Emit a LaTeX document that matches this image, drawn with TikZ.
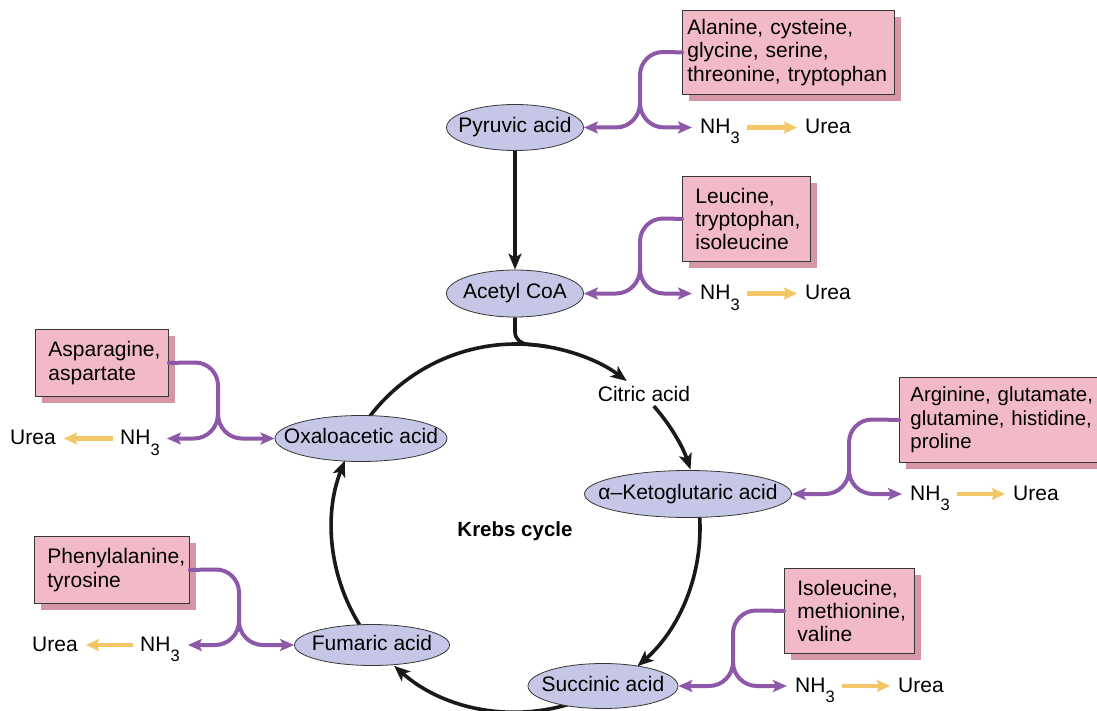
\documentclass[tikz,border=0pt]{standalone}
\usepackage{fontspec}
\setmainfont{Liberation Sans}
\usetikzlibrary{arrows.meta,shadows,shapes.geometric}
\definecolor{ellfill}{RGB}{198,199,230}
\definecolor{pinkfill}{RGB}{242,186,199}
\definecolor{pinksh}{RGB}{214,150,165}
\definecolor{cPurp}{RGB}{142,88,168}
\definecolor{cYel}{RGB}{243,199,104}
\definecolor{edgec}{RGB}{55,55,55}
\newcommand\nhthree{NH\raisebox{-0.5em}{\fontsize{16.5}{16.5}\selectfont 3}}
\begin{document}
\begin{tikzpicture}[x=1pt,y=1pt,
  font=\fontsize{21}{23.4}\selectfont,
  ell/.style={ellipse, draw=edgec, line width=0.8pt, fill=ellfill, inner sep=0pt, text height=15pt, text depth=4.5pt},
  pbox/.style={rectangle, draw=edgec, line width=0.8pt, fill=pinkfill, anchor=north west, align=left, inner ysep=0pt,
    drop shadow={shadow xshift=7pt, shadow yshift=-7pt, fill=pinksh, opacity=1}},
  lbl/.style={inner sep=0pt, anchor=base west},
  pl/.style={draw=cPurp, line width=4pt, line cap=round},
  ptip/.style={-{Stealth[length=14pt,width=12pt,inset=3pt]}},
  blk/.style={draw=black!90, line width=3.6pt},
  btip/.style={-{Stealth[length=16pt,width=13pt,inset=4pt]}},
  yl/.style={draw=cYel, line width=4.4pt, -{Stealth[length=13pt,width=12pt,inset=2pt]}, shorten <=7pt, shorten >=8pt}
]
\useasboundingbox (0,0) rectangle (1097,-711);
\clip (0,0) rectangle (1097,-711);

% Krebs cycle arcs (drawn first, ellipses cover their starts)
\coordinate (kc) at (516,-528);
\draw[blk,btip] ([shift={(143.5:184)}]kc) arc[start angle=143.5, end angle=53, radius=184];
\draw[blk,btip] ([shift={(41.5:184)}]kc) arc[start angle=41.5, end angle=18.5, radius=184];
\draw[blk,btip] ([shift={(4:184)}]kc) arc[start angle=4, end angle=-48.7, radius=184];
\draw[blk,btip] ([shift={(-70:184)}]kc) arc[start angle=-70, end angle=-131.5, radius=184];
\draw[blk,btip] ([shift={(213:184)}]kc) arc[start angle=213, end angle=158.5, radius=184];

% ellipses
\node[ell, minimum width=137, minimum height=46] (py) at (515,-127.5) {\makebox[0pt]{Pyruvic acid}};
\node[ell, minimum width=137, minimum height=47] (ac) at (515,-293.5) {\makebox[0pt]{Acetyl CoA}};
\node[ell, minimum width=172, minimum height=46] (ox) at (361,-438.5) {\makebox[0pt]{Oxaloacetic acid}};
\node[ell, minimum width=207, minimum height=47] (kg) at (688,-494) {\makebox[0pt]{α–Ketoglutaric acid}};
\node[ell, minimum width=155, minimum height=41] (fu) at (372,-645) {\makebox[0pt]{Fumaric acid}};
\node[ell, minimum width=150, minimum height=45] (su) at (603,-686) {\makebox[0pt]{Succinic acid}};

\node (ca) at (644,-394) {Citric acid};
\node[font=\bfseries\fontsize{20.5}{24}\selectfont] (kl) at (515,-531) {Krebs cycle};

% pink boxes
\node[pbox, minimum width=212, minimum height=84, inner xsep=5pt, text width=202pt] (b1) at (682,-10)
  {Alanine, cysteine,\\glycine, serine,\\threonine, tryptophan};
\node[pbox, minimum width=128, minimum height=85, inner xsep=13pt, text width=102pt] (b2) at (682,-176)
  {Leucine,\\tryptophan,\\isoleucine};
\node[pbox, minimum width=133, minimum height=67, inner xsep=13pt, text width=107pt] (b3) at (35,-329)
  {Asparagine,\\aspartate};
\node[pbox, minimum width=220, minimum height=85, inner xsep=11pt, text width=198pt, font=\fontsize{20.4}{23.4}\selectfont] (b4) at (899,-377)
  {Arginine, glutamate,\\glutamine, histidine,\\proline};
\node[pbox, minimum width=155, minimum height=67, inner xsep=13pt, text width=129pt] (b5) at (34,-536)
  {Phenylalanine,\\tyrosine};
\node[pbox, minimum width=130, minimum height=85, inner xsep=13pt, text width=104pt] (b6) at (784,-568)
  {Isoleucine,\\methionine,\\valine};

% NH3 and Urea labels
\node[lbl] (n1) at (700,-133.5) {\nhthree};
\node[lbl] (u1) at (805,-133.5) {Urea};
\node[lbl] (n2) at (700,-299.5) {\nhthree};
\node[lbl] (u2) at (805,-299.5) {Urea};
\node[lbl] (n3) at (120,-444.5) {\nhthree};
\node[lbl] (u3) at (10,-444.5) {Urea};
\node[lbl] (n4) at (910,-500) {\nhthree};
\node[lbl] (u4) at (1013,-500) {Urea};
\node[lbl] (n5) at (140,-651) {\nhthree};
\node[lbl] (u5) at (32,-651) {Urea};
\node[lbl] (n6) at (795,-692) {\nhthree};
\node[lbl] (u6) at (898,-692) {Urea};

% black connectors
\draw[blk,btip] (py.south) -- (ac.north);
\draw[blk] (ac.south) -- (515,-332) to[out=-90,in=180] ([shift={(86:184)}]kc) arc[start angle=86, end angle=80, radius=184];

% yellow arrows
\draw[yl] (n1.east |- py) -- (u1.west |- py);
\draw[yl] (n2.east |- ac) -- (u2.west |- ac);
\draw[yl] (n3.west |- ox) -- (u3.east |- ox);
\draw[yl] (n4.east |- kg) -- (u4.west |- kg);
\draw[yl] (n5.west |- fu) -- (u5.east |- fu);
\draw[yl] (n6.east |- su) -- (u6.west |- su);

% purple forks
\draw[pl] (b1.west) -- (663,-52) to[out=180,in=90] (640,-75) -- (640,-103);
\draw[pl,ptip] (640,-103) to[out=-90,in=0] (616,-127.5) -- (py.east);
\draw[pl,ptip,shorten >=8pt] (640,-103) to[out=-90,in=180] (664,-127.5) -- (n1.west |- py);

\draw[pl] (b2.west) -- (663,-218.5) to[out=180,in=90] (640,-241.5) -- (640,-269);
\draw[pl,ptip] (640,-269) to[out=-90,in=0] (616,-293.5) -- (ac.east);
\draw[pl,ptip,shorten >=8pt] (640,-269) to[out=-90,in=180] (664,-293.5) -- (n2.west |- ac);

\draw[pl] (b3.east) -- (195,-362.5) to[out=0,in=90] (218,-385.5) -- (218,-414);
\draw[pl,ptip,shorten >=7pt] (218,-414) to[out=-90,in=0] (194,-438.5) -- (n3.east |- ox);
\draw[pl,ptip] (218,-414) to[out=-90,in=180] (242,-438.5) -- (ox.west);

\draw[pl] (b4.west) -- (872,-419.5) to[out=180,in=90] (849,-442.5) -- (849,-470);
\draw[pl,ptip] (849,-470) to[out=-90,in=0] (825,-494) -- (kg.east);
\draw[pl,ptip,shorten >=8pt] (849,-470) to[out=-90,in=180] (873,-494) -- (n4.west |- kg);

\draw[pl] (b5.east) -- (216,-569.5) to[out=0,in=90] (239,-592.5) -- (239,-621);
\draw[pl,ptip,shorten >=8pt] (239,-621) to[out=-90,in=0] (215,-645) -- (n5.east |- fu);
\draw[pl,ptip] (239,-621) to[out=-90,in=180] (263,-645) -- (fu.west);

\draw[pl] (b6.west) -- (756,-610.5) to[out=180,in=90] (733,-633.5) -- (733,-662);
\draw[pl,ptip] (733,-662) to[out=-90,in=0] (709,-686) -- (su.east);
\draw[pl,ptip,shorten >=8pt] (733,-662) to[out=-90,in=180] (757,-686) -- (n6.west |- su);
\end{tikzpicture}
\end{document}
